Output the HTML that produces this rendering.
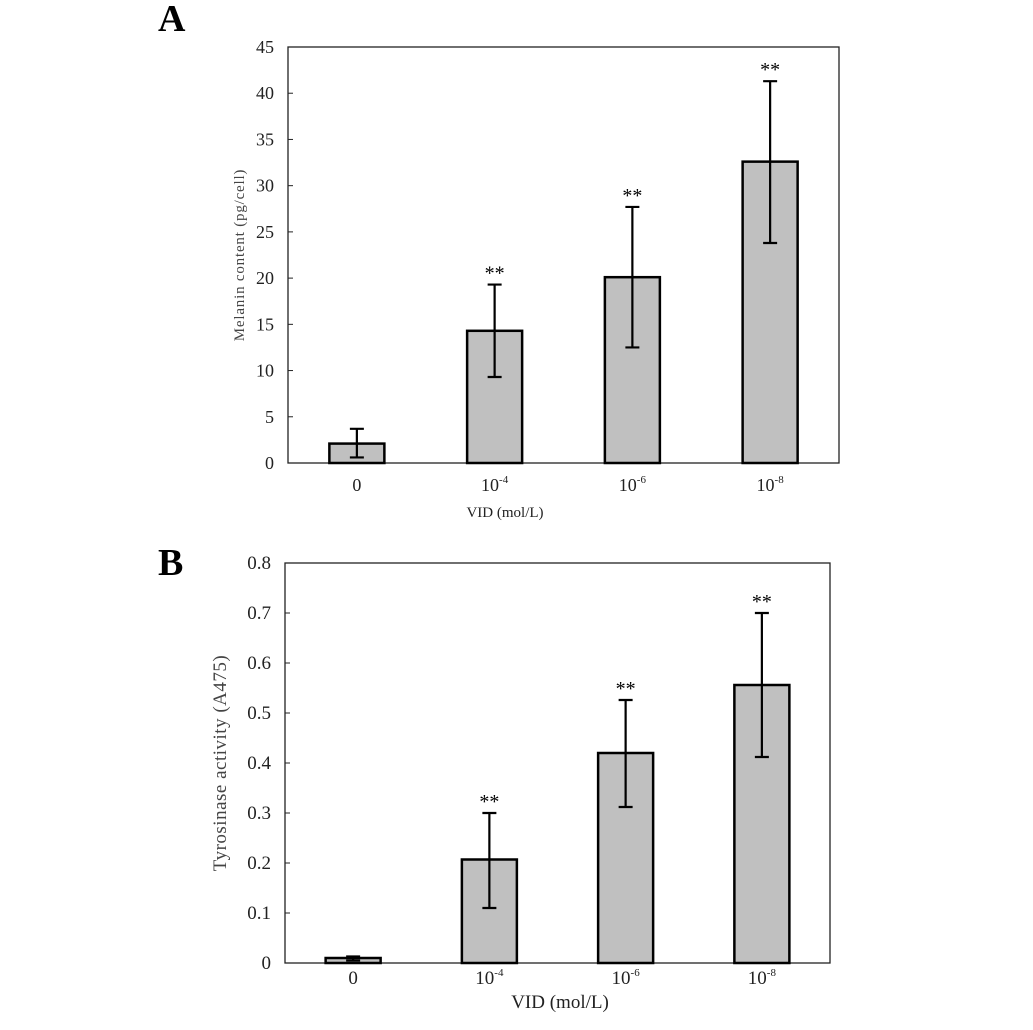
<!DOCTYPE html>
<html><head><meta charset="utf-8"><style>
html,body{margin:0;padding:0;background:#fff;}
svg{display:block;font-family:"Liberation Serif",serif;}
</style></head><body>
<svg id="fig" width="1033" height="1030" viewBox="0 0 1033 1030">
<text x="158" y="31" font-size="38" font-weight="bold">A</text>
<text x="158" y="575" font-size="38" font-weight="bold">B</text>
<g id="gA"></g>
<g id="gB"></g>
</svg>
<script>
const categories = ["0","10","10","10"];
const catExp = ["","-4","-6","-8"];
const melaninValues = [2.1, 14.3, 20.1, 32.6];
const melaninLow = [0.6, 9.3, 12.5, 23.8];
const melaninHigh = [3.7, 19.3, 27.7, 41.3];
const melaninTicks = [0,5,10,15,20,25,30,35,40,45];
const melaninSig = ["","**","**","**"];
const tyrValues = [0.01, 0.207, 0.42, 0.556];
const tyrLow = [0.005, 0.11, 0.312, 0.412];
const tyrHigh = [0.013, 0.30, 0.526, 0.70];
const tyrTicks = [0,0.1,0.2,0.3,0.4,0.5,0.6,0.7,0.8];
const tyrTickLabels = ["0","0.1","0.2","0.3","0.4","0.5","0.6","0.7","0.8"];
const tyrSig = ["","**","**","**"];

const NS="http://www.w3.org/2000/svg";
function mk(parent,tag,attrs,text){const e=document.createElementNS(NS,tag);for(const k in attrs)e.setAttribute(k,attrs[k]);if(text!==undefined)e.textContent=text;parent.appendChild(e);return e;}

function draw(g,o){
  const L=o.left,R=o.right,T=o.top,B=o.bottom;
  const y=v=>B-(v-o.min)/(o.max-o.min)*(B-T);
  const step=(R-L)/categories.length;
  const x=i=>L+step*(i+0.5);
  const frame=mk(g,'rect',{x:L,y:T,width:R-L,height:B-T,fill:'none',stroke:'#222','stroke-width':1.3});
  
  
  o.ticks.forEach((t,i)=>{
    const tk=mk(g,'line',{x1:L,x2:L+5,y1:y(t),y2:y(t),stroke:'#222','stroke-width':1});
    
    
    const tl=mk(g,'text',{x:L-14,y:y(t)+6,'font-size':o.tickSize,'text-anchor':'end',fill:'#222'},o.tickLabels[i]);
    
    
  });
  categories.forEach((c,i)=>{
    const bw=o.barW;
    const bar=mk(g,'rect',{x:x(i)-bw/2,y:y(o.values[i]),width:bw,height:B-y(o.values[i]),fill:'#c0c0c0',stroke:'#000','stroke-width':2.5});
    
    
    const eb=mk(g,'path',{d:`M${x(i)},${y(o.high[i])}V${y(o.low[i])}M${x(i)-7},${y(o.high[i])}H${x(i)+7}M${x(i)-7},${y(o.low[i])}H${x(i)+7}`,stroke:'#000','stroke-width':2.2,fill:'none'});
    
    
    if(o.sig[i]){
      const s=mk(g,'text',{x:x(i),y:y(o.high[i])-5,'font-size':20,'text-anchor':'middle'},o.sig[i]);
      
      
    }
    const lab=mk(g,'text',{x:x(i),y:B+o.catDy,'font-size':o.tickSize,'text-anchor':'middle',fill:'#222'});
    
    
    lab.appendChild(document.createTextNode(c));
    if(catExp[i]){const sp=mk(lab,'tspan',{dy:-8,'font-size':11},catExp[i]);}
  });
  const xt=mk(g,'text',{x:o.xTitleX,y:o.xTitleY,'font-size':o.xTitleSize,'text-anchor':'middle',fill:'#222'},'VID (mol/L)');
  
  
  const yt=mk(g,'text',{x:0,y:0,'font-size':o.yTitleSize,'text-anchor':'middle',fill:'#444','letter-spacing':o.ls,transform:`translate(${o.yTitleX},${(T+B)/2}) rotate(-90)`},o.yTitle);
  
  
}
draw(document.getElementById('gA'),{left:288,right:839,top:47,bottom:463,min:0,max:45,ticks:melaninTicks,tickLabels:melaninTicks.map(String),values:melaninValues,low:melaninLow,high:melaninHigh,sig:melaninSig,barW:55,tickSize:18,catDy:28,xTitleX:505,xTitleY:517,xTitleSize:15,yTitleX:244,yTitleSize:15,ls:0.8,yTitle:'Melanin content (pg/cell)'});
draw(document.getElementById('gB'),{left:285,right:830,top:563,bottom:963,min:0,max:0.8,ticks:tyrTicks,tickLabels:tyrTickLabels,values:tyrValues,low:tyrLow,high:tyrHigh,sig:tyrSig,barW:55,tickSize:19,catDy:21,xTitleX:560,xTitleY:1008,xTitleSize:19,yTitleX:226,yTitleSize:19,ls:0.5,yTitle:'Tyrosinase activity (A475)'});
</script>
</body></html>
